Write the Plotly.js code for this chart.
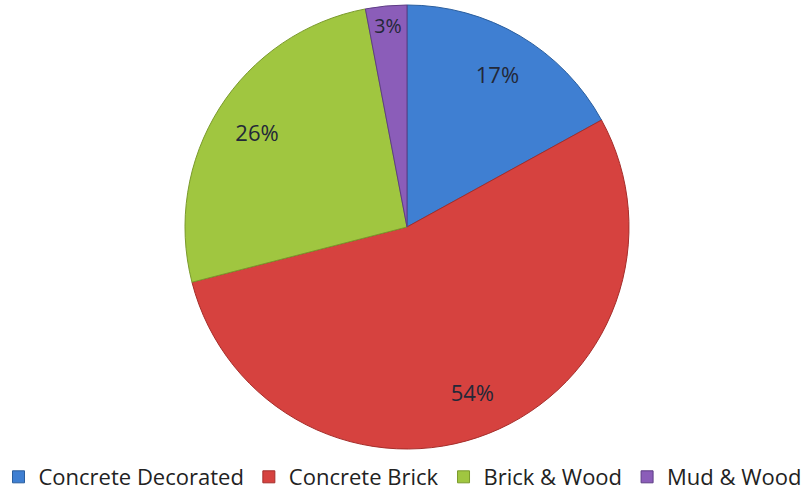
<!DOCTYPE html>
<html>
<head>
<meta charset="utf-8">
<script src="https://cdn.plot.ly/plotly-3.0.1.min.js"></script>
<style>html,body{margin:0;padding:0;background:#fff;}</style>
</head>
<body>
<div id="chart" style="width:806px;height:490px;"></div>
<script>
const categories = ["Concrete Decorated", "Concrete Brick", "Brick & Wood", "Mud & Wood"];
const values = [17, 54, 26, 3];
const colors = ["#3f7fd2", "#d6423f", "#a0c640", "#8b5db9"];
const edgeColors = ["#2a5e9e", "#a52d2a", "#7a9a2c", "#5e3d85"];

const base = {
  type: "pie",
  labels: categories,
  values: values,
  sort: false,
  direction: "clockwise",
  rotation: 0,
  hoverinfo: "skip"
};

const data = [
  Object.assign({}, base, {
    marker: {colors: colors, line: {color: edgeColors, width: 1}},
    textinfo: "none",
    domain: {x: [0.0099, 1], y: [0, 1]},
    showlegend: true
  }),
  Object.assign({}, base, {
    hole: 0.6,
    marker: {colors: ["rgba(0,0,0,0)","rgba(0,0,0,0)","rgba(0,0,0,0)","rgba(0,0,0,0)"], line: {width: 0}},
    textinfo: "percent",
    texttemplate: "%{percent:.0%}",
    textposition: "inside",
    insidetextorientation: "horizontal",
    textfont: {family: "Open Sans, sans-serif", size: 22, color: "#232838"},
    domain: {x: [0.0099, 1], y: [0, 1]},
    showlegend: false
  })
];

const layout = {
  width: 806, height: 490,
  margin: {l: 0, r: 0, t: 5, b: 41, autoexpand: false},
  paper_bgcolor: "#ffffff",
  showlegend: true,
  legend: {
    orientation: "h",
    x: 0.5, xanchor: "center",
    yref: "container",
    y: 0.0265, yanchor: "middle",
    font: {family: "Open Sans, sans-serif", size: 22, color: "#222222"},
    itemwidth: 30,
    traceorder: "normal"
  }
};

Plotly.newPlot("chart", data, layout, {displayModeBar: false, staticPlot: true});
</script>
</body>
</html>
